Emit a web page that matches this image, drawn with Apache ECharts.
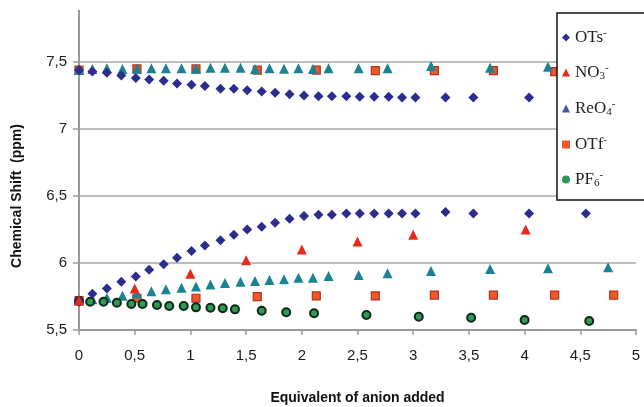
<!DOCTYPE html>
<html><head><meta charset="utf-8">
<script src="https://cdn.jsdelivr.net/npm/echarts@6/dist/echarts.min.js"></script>
<style>html,body{margin:0;padding:0;background:#fff}#c{width:644px;height:407px}</style>
</head><body><div id="c"></div>
<script>
// OTs- (two proton branches share the same x values)
const otsX = [0, 0.12, 0.25, 0.38, 0.51, 0.63, 0.76, 0.88, 1.01, 1.13, 1.27, 1.39, 1.51, 1.64, 1.76, 1.89, 2.02, 2.15, 2.27, 2.4, 2.52, 2.65, 2.78, 2.9, 3.02, 3.29, 3.54, 4.04, 4.55];
const otsUpper = [7.44, 7.43, 7.42, 7.40, 7.38, 7.37, 7.36, 7.34, 7.33, 7.32, 7.30, 7.30, 7.29, 7.28, 7.27, 7.26, 7.25, 7.245, 7.245, 7.245, 7.24, 7.24, 7.24, 7.235, 7.235, 7.235, 7.235, 7.235, 7.235];
const otsLower = [5.72, 5.77, 5.81, 5.86, 5.90, 5.95, 5.99, 6.04, 6.09, 6.13, 6.17, 6.21, 6.25, 6.27, 6.30, 6.33, 6.35, 6.36, 6.36, 6.37, 6.37, 6.37, 6.37, 6.37, 6.37, 6.38, 6.37, 6.37, 6.37];
// NO3-
const no3X = [0, 0.5, 1.0, 1.5, 2.0, 2.5, 3.0, 4.01, 5.01];
const no3Y = [5.72, 5.81, 5.92, 6.02, 6.10, 6.16, 6.21, 6.25, 6.27];
// ReO4-
const reo4X = [0, 0.12, 0.25, 0.39, 0.52, 0.65, 0.78, 0.92, 1.05, 1.18, 1.31, 1.45, 1.58, 1.71, 1.84, 1.97, 2.10, 2.24, 2.51, 2.77, 3.16, 3.69, 4.21, 4.75];
const reo4Upper = [7.44, 7.448, 7.453, 7.448, 7.45, 7.453, 7.453, 7.453, 7.45, 7.457, 7.457, 7.457, 7.448, 7.453, 7.45, 7.453, 7.448, 7.453, 7.453, 7.453, 7.47, 7.458, 7.465, 7.47];
const reo4Lower = [5.72, 5.73, 5.74, 5.755, 5.775, 5.79, 5.805, 5.815, 5.825, 5.84, 5.85, 5.86, 5.865, 5.873, 5.878, 5.89, 5.89, 5.903, 5.91, 5.923, 5.94, 5.955, 5.96, 5.968];
// OTf-
const otfX = [0, 0.52, 1.05, 1.6, 2.13, 2.66, 3.19, 3.72, 4.27, 4.8];
const otfUpper = [7.44, 7.448, 7.448, 7.44, 7.44, 7.435, 7.435, 7.435, 7.428, 7.43];
const otfLower = [5.72, 5.737, 5.737, 5.749, 5.754, 5.754, 5.761, 5.761, 5.761, 5.761];
// PF6-
const pf6X = [0, 0.1, 0.22, 0.34, 0.47, 0.57, 0.7, 0.81, 0.94, 1.05, 1.18, 1.29, 1.4, 1.64, 1.86, 2.11, 2.58, 3.05, 3.52, 4.0, 4.58];
const pf6Y = [5.715, 5.711, 5.711, 5.704, 5.694, 5.694, 5.687, 5.679, 5.679, 5.669, 5.666, 5.662, 5.654, 5.644, 5.632, 5.625, 5.612, 5.599, 5.592, 5.575, 5.567];

const legendNames = ['OTs', 'NO3', 'ReO4', 'OTf', 'PF6'];
const legendRich = {
  'OTs': '{b|OTs}{sup|-}',
  'NO3': '{b|NO}{sub|3}{sup|-}',
  'ReO4': '{b|ReO}{sub|4}{sup|-}',
  'OTf': '{b|OTf}{sup|-}',
  'PF6': '{b|PF}{sub|6}{sup|-}'
};

function pairs(xs, ...ys) {
  const out = [];
  ys.forEach(arr => arr.forEach((v, i) => out.push([xs[i], v])));
  return out;
}
const fmt = v => String(v).replace('.', ',');
const serif = 'Liberation Serif, DejaVu Serif, serif';

const chart = echarts.init(document.getElementById('c'), null, {renderer: 'canvas'});
chart.setOption({
  backgroundColor: '#fff',
  animation: false,
  grid: {left: 79, right: 8, top: 62, bottom: 77, containLabel: false, outerBoundsMode: 'none'},
  xAxis: {
    type: 'value', min: 0, max: 5, interval: 0.5,
    axisLine: {show: true, onZero: false, lineStyle: {color: '#9a9a9a', width: 2}},
    axisTick: {show: true, length: 5, lineStyle: {color: '#9a9a9a', width: 1.5}},
    splitLine: {show: false},
    axisLabel: {formatter: fmt, color: '#1a1a1a', fontFamily: 'Liberation Sans, Arial', fontSize: 15, margin: 18},
    name: 'Equivalent of anion added', nameLocation: 'middle', nameGap: 61,
    nameTextStyle: {fontFamily: 'Liberation Sans, Arial', fontWeight: 'bold', fontSize: 14, color: '#111'}
  },
  yAxis: {
    type: 'value', min: 5.5, max: 7.5, interval: 0.5,
    axisLine: {show: true, onZero: false, lineStyle: {color: '#9a9a9a', width: 2}},
    axisTick: {show: true, length: 6, lineStyle: {color: '#9a9a9a', width: 1.5}},
    splitLine: {show: true, lineStyle: {color: '#a8a8a8', width: 1.5}},
    axisLabel: {formatter: fmt, color: '#1a1a1a', fontFamily: 'Liberation Sans, Arial', fontSize: 15, margin: 12},
    name: 'Chemical Shift  (ppm)', nameLocation: 'middle', nameGap: 55,
    nameTextStyle: {fontFamily: 'Liberation Sans, Arial', fontWeight: 'bold', fontSize: 14, color: '#111'}
  },
  graphic: [{
    type: 'line', z: 1,
    shape: {x1: 79, y1: 10, x2: 79, y2: 62},
    style: {stroke: '#9a9a9a', lineWidth: 2}
  }],
  legend: {
    orient: 'vertical', left: 557, top: 13,
    padding: [15, 60, 11, 5],
    itemWidth: 8, itemHeight: 8, itemGap: 17,
    backgroundColor: '#fff', borderColor: '#111', borderWidth: 1.5,
    data: [
      {name: 'OTs', itemStyle: {color: '#2e2e94', borderWidth: 0}},
      {name: 'NO3', itemStyle: {color: '#e8291c', borderWidth: 0}},
      {name: 'ReO4', itemStyle: {color: '#4657a8', borderWidth: 0}},
      {name: 'OTf', itemStyle: {color: '#ea5a2a', borderWidth: 0}},
      {name: 'PF6', itemStyle: {color: '#2f9a55', borderWidth: 0}}
    ],
    formatter: n => legendRich[n],
    textStyle: {
      fontFamily: serif, fontSize: 17, color: '#222',
      rich: {
        b: {fontFamily: serif, fontSize: 17, color: '#222'},
        sub: {fontFamily: serif, fontSize: 11, color: '#222', verticalAlign: 'bottom', padding: [6, 0, 0, 0]},
        sup: {fontFamily: serif, fontSize: 11, color: '#222', verticalAlign: 'top', padding: [0, 0, 8, 0]}
      }
    }
  },
  series: [
    {name: 'OTf', type: 'scatter', symbol: 'rect', symbolSize: 8, data: pairs(otfX, otfUpper, otfLower),
     itemStyle: {color: '#ea5a2a', borderColor: '#b8321a', borderWidth: 1.2, opacity: 1}},
    {name: 'ReO4', type: 'scatter', symbol: 'triangle', symbolSize: 10, data: pairs(reo4X, reo4Upper, reo4Lower),
     itemStyle: {color: '#1a8292', opacity: 1}},
    {name: 'PF6', type: 'scatter', symbol: 'circle', symbolSize: 8, data: pairs(pf6X, pf6Y),
     itemStyle: {color: '#2f9a55', borderColor: '#0c2a14', borderWidth: 2, opacity: 1}},
    {name: 'OTs', type: 'scatter', symbol: 'diamond', symbolSize: 10, data: pairs(otsX, otsUpper, otsLower),
     itemStyle: {color: '#2c2c8e', opacity: 1}},
    {name: 'NO3', type: 'scatter', symbol: 'triangle', symbolSize: 10, data: pairs(no3X, no3Y),
     itemStyle: {color: '#e8291c', opacity: 1}}
  ]
});
</script></body></html>
